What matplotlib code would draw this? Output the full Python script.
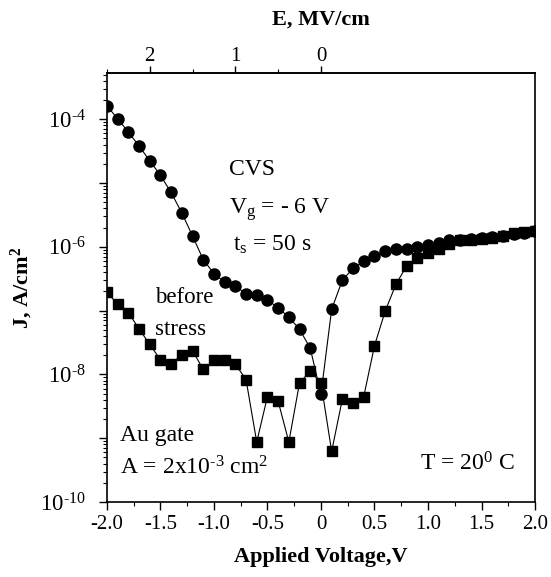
import matplotlib
matplotlib.use("Agg")
import matplotlib.pyplot as plt
from matplotlib.ticker import FixedLocator, FuncFormatter, LogLocator, NullFormatter, MultipleLocator
import numpy as np

plt.rcParams['font.family'] = ['Liberation Serif', 'DejaVu Serif']
plt.rcParams['mathtext.fontset'] = 'custom'
plt.rcParams['mathtext.rm'] = 'Liberation Serif'
plt.rcParams['mathtext.it'] = 'Liberation Serif:italic'
plt.rcParams['mathtext.bf'] = 'Liberation Serif:bold'
plt.rcParams['axes.unicode_minus'] = False

HY = '\u2010'  # short hyphen used in exponents

# Applied voltage, V (step 0.1 V)
voltage = np.round(np.arange(-2.0, 2.01, 0.1), 2)

# J after CVS (circles), A/cm^2
j_stress = [1.62e-4, 1.02e-4, 6.3e-5, 3.8e-5, 2.24e-5, 1.32e-5, 7.1e-6, 3.4e-6,
            1.48e-6, 6.3e-7, 3.8e-7, 2.8e-7, 2.45e-7, 1.82e-7, 1.74e-7, 1.48e-7,
            1.10e-7, 7.9e-8, 5.1e-8, 2.57e-8, 4.9e-9, 1.05e-7, 3.0e-7, 4.6e-7,
            5.9e-7, 7.2e-7, 8.5e-7, 9.1e-7, 9.3e-7, 9.8e-7, 1.07e-6, 1.15e-6,
            1.26e-6, 1.29e-6, 1.32e-6, 1.35e-6, 1.41e-6, 1.48e-6, 1.58e-6,
            1.66e-6, 1.74e-6]

# J before stress (squares), A/cm^2
j_before = [1.95e-7, 1.26e-7, 9.3e-8, 5.2e-8, 2.95e-8, 1.70e-8, 1.45e-8, 2.04e-8,
            2.34e-8, 1.20e-8, 1.66e-8, 1.70e-8, 1.45e-8, 8.3e-9, 8.7e-10, 4.5e-9,
            3.8e-9, 8.7e-10, 7.4e-9, 1.12e-8, 7.4e-9, 6.2e-10, 4.1e-9, 3.5e-9,
            4.5e-9, 2.8e-8, 9.8e-8, 2.57e-7, 5.0e-7, 6.6e-7, 7.9e-7, 9.3e-7,
            1.12e-6, 1.26e-6, 1.29e-6, 1.32e-6, 1.38e-6, 1.48e-6, 1.62e-6,
            1.70e-6, 1.74e-6]

# field axis: E (MV/cm) = -V / 0.8
volts_per_field = 0.8
e_major = [0, 1, 2]
e_minor = [0.5, 1.5, 2.5]

fig = plt.figure(figsize=(5.51, 5.77), dpi=100)
ax = fig.add_axes([0.194, 0.130, 0.777, 0.7435])

ax.plot(voltage, j_before, color='black', lw=0.8, marker='s', ms=7.5,
        mec='black', mfc='black', zorder=3)
ax.plot(voltage, j_stress, color='black', lw=0.8, marker='o', ms=8,
        mec='black', mfc='black', zorder=2)

ax.set_yscale('log')
ax.set_xlim(-2.0, 2.0)
ax.set_ylim(1e-10, 5.3e-4)

# x ticks
ax.xaxis.set_major_locator(MultipleLocator(0.5))
ax.xaxis.set_minor_locator(MultipleLocator(0.25))
ax.xaxis.set_major_formatter(FuncFormatter(lambda v, p: '0' if abs(v) < 1e-9 else '%.1f' % v))

# y ticks
ax.yaxis.set_major_locator(FixedLocator([10.0 ** k for k in range(-10, -3)]))
def ylab(v, p):
    k = int(round(np.log10(v)))
    return r'$10^{\mathrm{%s%d}}$' % (HY, -k) if k % 2 == 0 else ''
ax.yaxis.set_major_formatter(FuncFormatter(ylab))
ax.yaxis.set_minor_locator(LogLocator(base=10, subs=np.arange(2, 10), numticks=20))
ax.yaxis.set_minor_formatter(NullFormatter())

ax.tick_params(axis='both', which='major', direction='out', length=6, width=1,
               labelsize=15, top=False, right=False)
ax.tick_params(axis='y', which='major', labelsize=16.5, pad=9)
ax.tick_params(axis='both', which='minor', direction='out', length=3, width=0.8,
               top=False, right=False)
for s in ax.spines.values():
    s.set_linewidth(1.2)

ax.set_xlabel('Applied Voltage,V', fontsize=16, fontweight='bold', labelpad=9)
ax.set_ylabel(r'J, A/cm$^\mathbf{2}$', fontsize=16, fontweight='bold', labelpad=4)

# top axis in electric field
sec = ax.secondary_xaxis('top', functions=(lambda v: -v / volts_per_field,
                                           lambda e: -e * volts_per_field))
sec.xaxis.set_major_locator(FixedLocator(e_major))
sec.xaxis.set_minor_locator(FixedLocator(e_minor))
sec.xaxis.set_major_formatter(FuncFormatter(lambda e, p: '%d' % e))
sec.tick_params(which='major', direction='out', length=5, width=1, labelsize=15, pad=0)
sec.tick_params(which='minor', direction='out', length=3, width=0.8)
sec.spines['top'].set_linewidth(1.2)
sec.set_xlabel('E, MV/cm', fontsize=16, fontweight='bold', labelpad=16)

# annotations
kw = dict(transform=ax.transAxes, fontsize=17, va='center', ha='left')
ax.text(0.285, 0.774, 'CVS', **kw)
ax.text(0.285, 0.681, r'V$_\mathrm{g}$ = - 6 V', **kw)
ax.text(0.294, 0.599, r't$_\mathrm{s}$ = 50 s', **kw)
ax.text(0.112, 0.476, 'before', transform=ax.transAxes, fontsize=16.5, va='center')
ax.text(0.112, 0.401, 'stress', transform=ax.transAxes, fontsize=16.5, va='center')
ax.text(0.030, 0.154, 'Au gate', **kw)
ax.text(0.030, 0.079, r'A = 2x10$^{\mathrm{%s3}}$ cm$^{2}$' % HY, **kw)
ax.text(0.731, 0.089, r'T = 20$^{0}$ C', **kw)

fig.savefig('out.png', dpi=100)
